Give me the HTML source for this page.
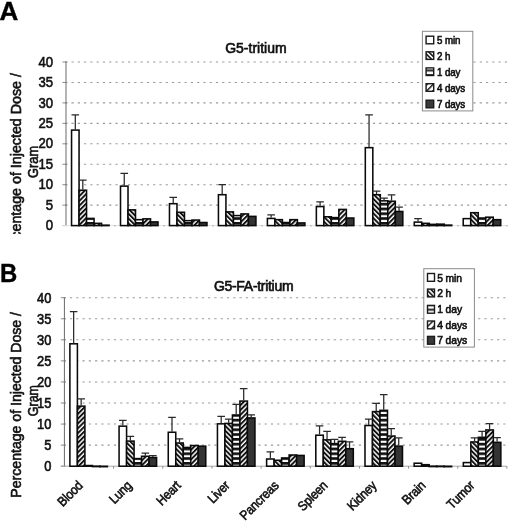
<!DOCTYPE html>
<html><head><meta charset="utf-8"><title>Biodistribution</title>
<style>
html,body{margin:0;padding:0;background:#fff;}
body{width:520px;height:528px;overflow:hidden;font-family:"Liberation Sans",sans-serif;}
svg{display:block;filter:blur(0.45px);}
text{font-family:"Liberation Sans",sans-serif;fill:#111;}
.panel{font-size:26px;font-weight:bold;fill:#000;stroke:#000;stroke-width:0.4px;}
.yl{font-size:14px;stroke:#111;stroke-width:0.6px;}
.ttl{font-size:13.5px;letter-spacing:0.45px;stroke:#111;stroke-width:0.65px;}
.ax{font-size:14px;stroke:#111;stroke-width:0.6px;}
.lg{font-size:11px;letter-spacing:-0.1px;stroke:#111;stroke-width:0.65px;}
.cat{font-size:13.2px;letter-spacing:-0.2px;stroke:#111;stroke-width:0.6px;}
</style></head><body>
<svg width="520" height="528" viewBox="0 0 520 528">
<defs>
<pattern id="pBack" patternUnits="userSpaceOnUse" width="3.4" height="3.4" patternTransform="rotate(-45)"><rect width="3.4" height="3.4" fill="#fff"/><rect width="1.95" height="3.4" fill="#111"/></pattern>
<pattern id="pFwd" patternUnits="userSpaceOnUse" width="3.4" height="3.4" patternTransform="rotate(45)"><rect width="3.4" height="3.4" fill="#fff"/><rect width="1.95" height="3.4" fill="#111"/></pattern>
<pattern id="pHorz" patternUnits="userSpaceOnUse" width="4.8" height="4.8" patternTransform="translate(0 1.2)"><rect width="4.8" height="4.8" fill="#fff"/><rect width="4.8" height="2.7" fill="#111"/></pattern>
<pattern id="lBack" patternUnits="userSpaceOnUse" width="3.2" height="3.2" patternTransform="rotate(-45)"><rect width="3.2" height="3.2" fill="#fff"/><rect width="1.7" height="3.2" fill="#222"/></pattern>
<pattern id="lFwd" patternUnits="userSpaceOnUse" width="4.4" height="4.4" patternTransform="rotate(45)"><rect width="4.4" height="4.4" fill="#fff"/><rect width="1.5" height="4.4" fill="#222"/></pattern>
<pattern id="lHorz" patternUnits="userSpaceOnUse" width="8" height="4.6" patternTransform="translate(0 0.4)"><rect width="8" height="4.6" fill="#fff"/><rect width="8" height="2.2" fill="#333"/></pattern>
<clipPath id="clipA"><rect x="0" y="0" width="520" height="234"/></clipPath>
</defs>
<rect width="520" height="528" fill="#fff"/>

<!-- Panel A -->
<text x="-0.6" y="19.7" class="panel">A</text>
<g clip-path="url(#clipA)">
<text transform="translate(21.0 73.1) rotate(-90)" text-anchor="end" class="ax" style="font-size:14.25px">Percentage of Injected Dose /</text>
<text transform="translate(38.2 161.9) rotate(-90) scale(0.89 1)" text-anchor="middle" class="ax" style="font-size:14.4px">Gram</text>
</g>
<text transform="translate(53.0 230.20) scale(0.92 1)" text-anchor="end" class="yl" style="font-size:14.3px">0</text>
<text transform="translate(53.0 209.75) scale(0.92 1)" text-anchor="end" class="yl" style="font-size:14.3px">5</text>
<text transform="translate(53.0 189.30) scale(0.92 1)" text-anchor="end" class="yl" style="font-size:14.3px">10</text>
<text transform="translate(53.0 168.85) scale(0.92 1)" text-anchor="end" class="yl" style="font-size:14.3px">15</text>
<text transform="translate(53.0 148.40) scale(0.92 1)" text-anchor="end" class="yl" style="font-size:14.3px">20</text>
<text transform="translate(53.0 127.95) scale(0.92 1)" text-anchor="end" class="yl" style="font-size:14.3px">25</text>
<text transform="translate(53.0 107.50) scale(0.92 1)" text-anchor="end" class="yl" style="font-size:14.3px">30</text>
<text transform="translate(53.0 87.05) scale(0.92 1)" text-anchor="end" class="yl" style="font-size:14.3px">35</text>
<text transform="translate(53.0 66.60) scale(0.92 1)" text-anchor="end" class="yl" style="font-size:14.3px">40</text>
<text x="255.9" y="53.3" text-anchor="middle" class="ttl" style="font-size:14px;letter-spacing:0px">G5-tritium</text>
<line x1="65.20" y1="205.15" x2="507.00" y2="205.15" stroke="#9a9a9a" stroke-width="1.1" stroke-dasharray="2.2 4.08"/>
<line x1="65.20" y1="184.70" x2="507.00" y2="184.70" stroke="#9a9a9a" stroke-width="1.1" stroke-dasharray="2.2 4.08"/>
<line x1="65.20" y1="164.25" x2="507.00" y2="164.25" stroke="#9a9a9a" stroke-width="1.1" stroke-dasharray="2.2 4.08"/>
<line x1="65.20" y1="143.80" x2="507.00" y2="143.80" stroke="#9a9a9a" stroke-width="1.1" stroke-dasharray="2.2 4.08"/>
<line x1="65.20" y1="123.35" x2="507.00" y2="123.35" stroke="#9a9a9a" stroke-width="1.1" stroke-dasharray="2.2 4.08"/>
<line x1="65.20" y1="102.90" x2="507.00" y2="102.90" stroke="#9a9a9a" stroke-width="1.1" stroke-dasharray="2.2 4.08"/>
<line x1="65.20" y1="82.45" x2="507.00" y2="82.45" stroke="#9a9a9a" stroke-width="1.1" stroke-dasharray="2.2 4.08"/>
<line x1="65.20" y1="62.00" x2="507.00" y2="62.00" stroke="#9a9a9a" stroke-width="1.1" stroke-dasharray="2.2 4.08"/>
<line x1="62.40" y1="225.60" x2="67.20" y2="225.60" stroke="#8c8c8c" stroke-width="1"/>
<line x1="62.40" y1="205.15" x2="67.20" y2="205.15" stroke="#8c8c8c" stroke-width="1"/>
<line x1="62.40" y1="184.70" x2="67.20" y2="184.70" stroke="#8c8c8c" stroke-width="1"/>
<line x1="62.40" y1="164.25" x2="67.20" y2="164.25" stroke="#8c8c8c" stroke-width="1"/>
<line x1="62.40" y1="143.80" x2="67.20" y2="143.80" stroke="#8c8c8c" stroke-width="1"/>
<line x1="62.40" y1="123.35" x2="67.20" y2="123.35" stroke="#8c8c8c" stroke-width="1"/>
<line x1="62.40" y1="102.90" x2="67.20" y2="102.90" stroke="#8c8c8c" stroke-width="1"/>
<line x1="62.40" y1="82.45" x2="67.20" y2="82.45" stroke="#8c8c8c" stroke-width="1"/>
<line x1="62.40" y1="62.00" x2="67.20" y2="62.00" stroke="#8c8c8c" stroke-width="1"/>
<line x1="66.00" y1="61.50" x2="66.00" y2="226.10" stroke="#777" stroke-width="1.1"/>
<line x1="62.40" y1="225.60" x2="507.00" y2="225.60" stroke="#e2e2e2" stroke-width="1"/>
<line x1="115.00" y1="225.00" x2="115.00" y2="226.40" stroke="#aaa" stroke-width="1.2"/>
<line x1="164.00" y1="225.00" x2="164.00" y2="226.40" stroke="#aaa" stroke-width="1.2"/>
<line x1="213.00" y1="225.00" x2="213.00" y2="226.40" stroke="#aaa" stroke-width="1.2"/>
<line x1="262.00" y1="225.00" x2="262.00" y2="226.40" stroke="#aaa" stroke-width="1.2"/>
<line x1="311.00" y1="225.00" x2="311.00" y2="226.40" stroke="#aaa" stroke-width="1.2"/>
<line x1="360.00" y1="225.00" x2="360.00" y2="226.40" stroke="#aaa" stroke-width="1.2"/>
<line x1="409.00" y1="225.00" x2="409.00" y2="226.40" stroke="#aaa" stroke-width="1.2"/>
<line x1="458.00" y1="225.00" x2="458.00" y2="226.40" stroke="#aaa" stroke-width="1.2"/>
<line x1="507.00" y1="225.00" x2="507.00" y2="226.40" stroke="#aaa" stroke-width="1.2"/>
<rect x="71.55" y="130.09" width="7.50" height="95.52" fill="#fff" stroke="#0a0a0a" stroke-width="1.55"/>
<rect x="79.05" y="190.21" width="7.50" height="35.39" fill="url(#pFwd)" stroke="#0a0a0a" stroke-width="1.55"/>
<rect x="86.55" y="218.43" width="7.50" height="7.17" fill="url(#pHorz)" stroke="#0a0a0a" stroke-width="1.55"/>
<rect x="94.05" y="223.34" width="7.50" height="2.26" fill="url(#pFwd)" stroke="#0a0a0a" stroke-width="1.55"/>
<rect x="101.55" y="225.18" width="7.50" height="0.42" fill="#333" stroke="#0a0a0a" stroke-width="1.55"/>
<path d="M75.30 129.49V114.76M71.50 114.76H79.10" stroke="#2a2a2a" stroke-width="1.25" fill="none"/>
<path d="M82.80 189.61V180.20M79.00 180.20H86.60" stroke="#2a2a2a" stroke-width="1.25" fill="none"/>
<rect x="120.51" y="186.12" width="7.50" height="39.48" fill="#fff" stroke="#0a0a0a" stroke-width="1.55"/>
<rect x="128.01" y="209.84" width="7.50" height="15.76" fill="url(#pBack)" stroke="#0a0a0a" stroke-width="1.55"/>
<rect x="135.51" y="219.66" width="7.50" height="5.94" fill="url(#pHorz)" stroke="#0a0a0a" stroke-width="1.55"/>
<rect x="143.01" y="218.84" width="7.50" height="6.76" fill="url(#pFwd)" stroke="#0a0a0a" stroke-width="1.55"/>
<rect x="150.51" y="221.91" width="7.50" height="3.69" fill="#333" stroke="#0a0a0a" stroke-width="1.55"/>
<path d="M124.26 185.52V173.25M120.46 173.25H128.06" stroke="#2a2a2a" stroke-width="1.25" fill="none"/>
<rect x="169.47" y="203.70" width="7.50" height="21.89" fill="#fff" stroke="#0a0a0a" stroke-width="1.55"/>
<rect x="176.97" y="212.29" width="7.50" height="13.31" fill="url(#pBack)" stroke="#0a0a0a" stroke-width="1.55"/>
<rect x="184.47" y="220.68" width="7.50" height="4.92" fill="url(#pHorz)" stroke="#0a0a0a" stroke-width="1.55"/>
<rect x="191.97" y="220.06" width="7.50" height="5.54" fill="url(#pFwd)" stroke="#0a0a0a" stroke-width="1.55"/>
<rect x="199.47" y="222.52" width="7.50" height="3.08" fill="#333" stroke="#0a0a0a" stroke-width="1.55"/>
<path d="M173.22 203.10V197.38M169.42 197.38H177.02" stroke="#2a2a2a" stroke-width="1.25" fill="none"/>
<rect x="218.43" y="194.71" width="7.50" height="30.89" fill="#fff" stroke="#0a0a0a" stroke-width="1.55"/>
<rect x="225.93" y="211.88" width="7.50" height="13.71" fill="url(#pBack)" stroke="#0a0a0a" stroke-width="1.55"/>
<rect x="233.43" y="215.57" width="7.50" height="10.03" fill="url(#pHorz)" stroke="#0a0a0a" stroke-width="1.55"/>
<rect x="240.93" y="213.93" width="7.50" height="11.67" fill="url(#pFwd)" stroke="#0a0a0a" stroke-width="1.55"/>
<rect x="248.43" y="216.38" width="7.50" height="9.22" fill="#333" stroke="#0a0a0a" stroke-width="1.55"/>
<path d="M222.18 194.11V184.50M218.38 184.50H225.98" stroke="#2a2a2a" stroke-width="1.25" fill="none"/>
<rect x="267.39" y="218.43" width="7.50" height="7.17" fill="#fff" stroke="#0a0a0a" stroke-width="1.55"/>
<rect x="274.89" y="219.66" width="7.50" height="5.94" fill="url(#pBack)" stroke="#0a0a0a" stroke-width="1.55"/>
<rect x="282.39" y="222.52" width="7.50" height="3.08" fill="url(#pHorz)" stroke="#0a0a0a" stroke-width="1.55"/>
<rect x="289.89" y="219.66" width="7.50" height="5.94" fill="url(#pFwd)" stroke="#0a0a0a" stroke-width="1.55"/>
<rect x="297.39" y="222.93" width="7.50" height="2.67" fill="#333" stroke="#0a0a0a" stroke-width="1.55"/>
<path d="M271.14 217.83V214.76M267.34 214.76H274.94" stroke="#2a2a2a" stroke-width="1.25" fill="none"/>
<rect x="316.35" y="206.57" width="7.50" height="19.03" fill="#fff" stroke="#0a0a0a" stroke-width="1.55"/>
<rect x="323.85" y="216.79" width="7.50" height="8.81" fill="url(#pBack)" stroke="#0a0a0a" stroke-width="1.55"/>
<rect x="331.35" y="217.61" width="7.50" height="7.99" fill="url(#pHorz)" stroke="#0a0a0a" stroke-width="1.55"/>
<rect x="338.85" y="209.43" width="7.50" height="16.17" fill="url(#pFwd)" stroke="#0a0a0a" stroke-width="1.55"/>
<rect x="346.35" y="218.02" width="7.50" height="7.58" fill="#333" stroke="#0a0a0a" stroke-width="1.55"/>
<path d="M320.10 205.97V201.88M316.30 201.88H323.90" stroke="#2a2a2a" stroke-width="1.25" fill="none"/>
<rect x="365.31" y="147.67" width="7.50" height="77.93" fill="#fff" stroke="#0a0a0a" stroke-width="1.55"/>
<rect x="372.81" y="194.71" width="7.50" height="30.89" fill="url(#pBack)" stroke="#0a0a0a" stroke-width="1.55"/>
<rect x="380.31" y="200.84" width="7.50" height="24.76" fill="url(#pHorz)" stroke="#0a0a0a" stroke-width="1.55"/>
<rect x="387.81" y="201.25" width="7.50" height="24.35" fill="url(#pFwd)" stroke="#0a0a0a" stroke-width="1.55"/>
<rect x="395.31" y="211.48" width="7.50" height="14.12" fill="#333" stroke="#0a0a0a" stroke-width="1.55"/>
<path d="M369.06 147.07V114.76M365.26 114.76H372.86" stroke="#2a2a2a" stroke-width="1.25" fill="none"/>
<path d="M376.56 194.11V191.24M372.76 191.24H380.36" stroke="#2a2a2a" stroke-width="1.25" fill="none"/>
<path d="M384.06 200.24V198.20M380.26 198.20H387.86" stroke="#2a2a2a" stroke-width="1.25" fill="none"/>
<path d="M391.56 200.65V194.93M387.76 194.93H395.36" stroke="#2a2a2a" stroke-width="1.25" fill="none"/>
<path d="M399.06 210.88V207.19M395.26 207.19H402.86" stroke="#2a2a2a" stroke-width="1.25" fill="none"/>
<rect x="414.27" y="222.11" width="7.50" height="3.49" fill="#fff" stroke="#0a0a0a" stroke-width="1.55"/>
<rect x="421.77" y="223.34" width="7.50" height="2.26" fill="url(#pBack)" stroke="#0a0a0a" stroke-width="1.55"/>
<rect x="429.27" y="224.36" width="7.50" height="1.24" fill="url(#pHorz)" stroke="#0a0a0a" stroke-width="1.55"/>
<rect x="436.77" y="224.16" width="7.50" height="1.44" fill="url(#pFwd)" stroke="#0a0a0a" stroke-width="1.55"/>
<rect x="444.27" y="225.10" width="7.50" height="0.50" fill="#333" stroke="#0a0a0a" stroke-width="1.55"/>
<path d="M418.02 221.51V218.65M414.22 218.65H421.82" stroke="#2a2a2a" stroke-width="1.25" fill="none"/>
<rect x="463.23" y="218.63" width="7.50" height="6.97" fill="#fff" stroke="#0a0a0a" stroke-width="1.55"/>
<rect x="470.73" y="212.70" width="7.50" height="12.90" fill="url(#pBack)" stroke="#0a0a0a" stroke-width="1.55"/>
<rect x="478.23" y="218.02" width="7.50" height="7.58" fill="url(#pHorz)" stroke="#0a0a0a" stroke-width="1.55"/>
<rect x="485.73" y="217.20" width="7.50" height="8.40" fill="url(#pFwd)" stroke="#0a0a0a" stroke-width="1.55"/>
<rect x="493.23" y="219.66" width="7.50" height="5.94" fill="#333" stroke="#0a0a0a" stroke-width="1.55"/>
<rect x="422.4" y="31.3" width="50.4" height="79.6" fill="#fff" stroke="#8a8a8a" stroke-width="1"/>
<rect x="426.10" y="36.20" width="7.6" height="7.6" fill="#fff" stroke="#1a1a1a" stroke-width="1.4"/>
<text transform="translate(437.00 44.03) scale(0.87 1)" class="lg" style="font-size:11.2px">5 min</text>
<rect x="426.10" y="51.80" width="7.6" height="7.6" fill="url(#lBack)" stroke="#1a1a1a" stroke-width="1.4"/>
<text transform="translate(437.00 59.63) scale(0.87 1)" class="lg" style="font-size:11.2px">2 h</text>
<rect x="426.10" y="67.90" width="7.6" height="7.6" fill="url(#lHorz)" stroke="#1a1a1a" stroke-width="1.4"/>
<text transform="translate(437.00 75.73) scale(0.87 1)" class="lg" style="font-size:11.2px">1 day</text>
<rect x="426.10" y="83.70" width="7.6" height="7.6" fill="url(#lFwd)" stroke="#1a1a1a" stroke-width="1.4"/>
<text transform="translate(437.00 91.53) scale(0.87 1)" class="lg" style="font-size:11.2px">4 days</text>
<rect x="426.10" y="100.20" width="7.6" height="7.6" fill="#3a3a3a" stroke="#1a1a1a" stroke-width="1.4"/>
<text transform="translate(437.00 108.03) scale(0.87 1)" class="lg" style="font-size:11.2px">7 days</text>

<!-- Panel B -->
<text transform="translate(0 282.1) scale(0.92 1)" class="panel">B</text>
<text transform="translate(20.9 404.8) rotate(-90)" text-anchor="middle" class="ax" style="font-size:14.1px">Percentage of Injected Dose /</text>
<text transform="translate(37.8 400.6) rotate(-90) scale(0.89 1)" text-anchor="middle" class="ax" style="font-size:14px">Gram</text>
<text transform="translate(51.4 471.20) scale(0.92 1)" text-anchor="end" class="yl" style="font-size:14px">0</text>
<text transform="translate(51.4 450.14) scale(0.92 1)" text-anchor="end" class="yl" style="font-size:14px">5</text>
<text transform="translate(51.4 429.07) scale(0.92 1)" text-anchor="end" class="yl" style="font-size:14px">10</text>
<text transform="translate(51.4 408.01) scale(0.92 1)" text-anchor="end" class="yl" style="font-size:14px">15</text>
<text transform="translate(51.4 386.95) scale(0.92 1)" text-anchor="end" class="yl" style="font-size:14px">20</text>
<text transform="translate(51.4 365.89) scale(0.92 1)" text-anchor="end" class="yl" style="font-size:14px">25</text>
<text transform="translate(51.4 344.82) scale(0.92 1)" text-anchor="end" class="yl" style="font-size:14px">30</text>
<text transform="translate(51.4 323.76) scale(0.92 1)" text-anchor="end" class="yl" style="font-size:14px">35</text>
<text transform="translate(51.4 302.70) scale(0.92 1)" text-anchor="end" class="yl" style="font-size:14px">40</text>
<text x="253.6" y="290.5" text-anchor="middle" class="ttl" style="font-size:14px;letter-spacing:-0.3px">G5-FA-tritium</text>
<line x1="63.65" y1="445.14" x2="506.90" y2="445.14" stroke="#9a9a9a" stroke-width="1.1" stroke-dasharray="2.2 4.08"/>
<line x1="63.65" y1="424.07" x2="506.90" y2="424.07" stroke="#9a9a9a" stroke-width="1.1" stroke-dasharray="2.2 4.08"/>
<line x1="63.65" y1="403.01" x2="506.90" y2="403.01" stroke="#9a9a9a" stroke-width="1.1" stroke-dasharray="2.2 4.08"/>
<line x1="63.65" y1="381.95" x2="506.90" y2="381.95" stroke="#9a9a9a" stroke-width="1.1" stroke-dasharray="2.2 4.08"/>
<line x1="63.65" y1="360.89" x2="506.90" y2="360.89" stroke="#9a9a9a" stroke-width="1.1" stroke-dasharray="2.2 4.08"/>
<line x1="63.65" y1="339.82" x2="506.90" y2="339.82" stroke="#9a9a9a" stroke-width="1.1" stroke-dasharray="2.2 4.08"/>
<line x1="63.65" y1="318.76" x2="506.90" y2="318.76" stroke="#9a9a9a" stroke-width="1.1" stroke-dasharray="2.2 4.08"/>
<line x1="63.65" y1="297.70" x2="506.90" y2="297.70" stroke="#9a9a9a" stroke-width="1.1" stroke-dasharray="2.2 4.08"/>
<line x1="60.85" y1="466.20" x2="65.65" y2="466.20" stroke="#8c8c8c" stroke-width="1"/>
<line x1="60.85" y1="445.14" x2="65.65" y2="445.14" stroke="#8c8c8c" stroke-width="1"/>
<line x1="60.85" y1="424.07" x2="65.65" y2="424.07" stroke="#8c8c8c" stroke-width="1"/>
<line x1="60.85" y1="403.01" x2="65.65" y2="403.01" stroke="#8c8c8c" stroke-width="1"/>
<line x1="60.85" y1="381.95" x2="65.65" y2="381.95" stroke="#8c8c8c" stroke-width="1"/>
<line x1="60.85" y1="360.89" x2="65.65" y2="360.89" stroke="#8c8c8c" stroke-width="1"/>
<line x1="60.85" y1="339.82" x2="65.65" y2="339.82" stroke="#8c8c8c" stroke-width="1"/>
<line x1="60.85" y1="318.76" x2="65.65" y2="318.76" stroke="#8c8c8c" stroke-width="1"/>
<line x1="60.85" y1="297.70" x2="65.65" y2="297.70" stroke="#8c8c8c" stroke-width="1"/>
<line x1="64.45" y1="297.20" x2="64.45" y2="466.70" stroke="#777" stroke-width="1.1"/>
<line x1="60.85" y1="466.20" x2="506.90" y2="466.20" stroke="#a8a8a8" stroke-width="1"/>
<line x1="113.61" y1="466.20" x2="113.61" y2="468.60" stroke="#8a8a8a" stroke-width="1"/>
<line x1="162.77" y1="466.20" x2="162.77" y2="468.60" stroke="#8a8a8a" stroke-width="1"/>
<line x1="211.93" y1="466.20" x2="211.93" y2="468.60" stroke="#8a8a8a" stroke-width="1"/>
<line x1="261.09" y1="466.20" x2="261.09" y2="468.60" stroke="#8a8a8a" stroke-width="1"/>
<line x1="310.26" y1="466.20" x2="310.26" y2="468.60" stroke="#8a8a8a" stroke-width="1"/>
<line x1="359.42" y1="466.20" x2="359.42" y2="468.60" stroke="#8a8a8a" stroke-width="1"/>
<line x1="408.58" y1="466.20" x2="408.58" y2="468.60" stroke="#8a8a8a" stroke-width="1"/>
<line x1="457.74" y1="466.20" x2="457.74" y2="468.60" stroke="#8a8a8a" stroke-width="1"/>
<line x1="506.90" y1="466.20" x2="506.90" y2="468.60" stroke="#8a8a8a" stroke-width="1"/>
<rect x="69.90" y="343.80" width="7.50" height="122.41" fill="#fff" stroke="#0a0a0a" stroke-width="1.55"/>
<rect x="77.40" y="406.14" width="7.50" height="60.06" fill="url(#pFwd)" stroke="#0a0a0a" stroke-width="1.55"/>
<rect x="84.90" y="465.54" width="7.50" height="0.66" fill="url(#pHorz)" stroke="#0a0a0a" stroke-width="1.55"/>
<rect x="92.40" y="466.17" width="7.50" height="0.40" fill="url(#pFwd)" stroke="#0a0a0a" stroke-width="1.55"/>
<rect x="99.90" y="466.29" width="7.50" height="0.40" fill="#333" stroke="#0a0a0a" stroke-width="1.55"/>
<path d="M73.65 343.19V311.60M69.85 311.60H77.45" stroke="#2a2a2a" stroke-width="1.25" fill="none"/>
<path d="M81.15 405.54V398.80M77.35 398.80H84.95" stroke="#2a2a2a" stroke-width="1.25" fill="none"/>
<rect x="119.08" y="426.15" width="7.50" height="40.05" fill="#fff" stroke="#0a0a0a" stroke-width="1.55"/>
<rect x="126.58" y="441.10" width="7.50" height="25.10" fill="url(#pBack)" stroke="#0a0a0a" stroke-width="1.55"/>
<rect x="134.08" y="458.59" width="7.50" height="7.61" fill="url(#pHorz)" stroke="#0a0a0a" stroke-width="1.55"/>
<rect x="141.58" y="456.27" width="7.50" height="9.93" fill="url(#pFwd)" stroke="#0a0a0a" stroke-width="1.55"/>
<rect x="149.08" y="457.53" width="7.50" height="8.67" fill="#333" stroke="#0a0a0a" stroke-width="1.55"/>
<path d="M122.83 425.55V420.28M119.03 420.28H126.63" stroke="#2a2a2a" stroke-width="1.25" fill="none"/>
<path d="M130.33 440.50V436.29M126.53 436.29H134.13" stroke="#2a2a2a" stroke-width="1.25" fill="none"/>
<path d="M145.33 455.67V453.14M141.53 453.14H149.13" stroke="#2a2a2a" stroke-width="1.25" fill="none"/>
<path d="M152.83 456.93V455.67M149.03 455.67H156.63" stroke="#2a2a2a" stroke-width="1.25" fill="none"/>
<rect x="168.26" y="432.26" width="7.50" height="33.94" fill="#fff" stroke="#0a0a0a" stroke-width="1.55"/>
<rect x="175.76" y="443.00" width="7.50" height="23.20" fill="url(#pBack)" stroke="#0a0a0a" stroke-width="1.55"/>
<rect x="183.26" y="447.42" width="7.50" height="18.78" fill="url(#pHorz)" stroke="#0a0a0a" stroke-width="1.55"/>
<rect x="190.76" y="445.53" width="7.50" height="20.67" fill="url(#pFwd)" stroke="#0a0a0a" stroke-width="1.55"/>
<rect x="198.26" y="446.16" width="7.50" height="20.04" fill="#333" stroke="#0a0a0a" stroke-width="1.55"/>
<path d="M172.01 431.66V417.33M168.21 417.33H175.81" stroke="#2a2a2a" stroke-width="1.25" fill="none"/>
<path d="M179.51 442.40V438.82M175.71 438.82H183.31" stroke="#2a2a2a" stroke-width="1.25" fill="none"/>
<rect x="217.44" y="423.83" width="7.50" height="42.37" fill="#fff" stroke="#0a0a0a" stroke-width="1.55"/>
<rect x="224.94" y="423.41" width="7.50" height="42.79" fill="url(#pBack)" stroke="#0a0a0a" stroke-width="1.55"/>
<rect x="232.44" y="414.99" width="7.50" height="51.21" fill="url(#pHorz)" stroke="#0a0a0a" stroke-width="1.55"/>
<rect x="239.94" y="401.09" width="7.50" height="65.12" fill="url(#pFwd)" stroke="#0a0a0a" stroke-width="1.55"/>
<rect x="247.44" y="417.94" width="7.50" height="48.27" fill="#333" stroke="#0a0a0a" stroke-width="1.55"/>
<path d="M221.19 423.23V416.49M217.39 416.49H224.99" stroke="#2a2a2a" stroke-width="1.25" fill="none"/>
<path d="M228.69 422.81V419.02M224.89 419.02H232.49" stroke="#2a2a2a" stroke-width="1.25" fill="none"/>
<path d="M236.19 414.39V404.28M232.39 404.28H239.99" stroke="#2a2a2a" stroke-width="1.25" fill="none"/>
<path d="M243.69 400.49V388.69M239.89 388.69H247.49" stroke="#2a2a2a" stroke-width="1.25" fill="none"/>
<path d="M251.19 417.33V414.81M247.39 414.81H254.99" stroke="#2a2a2a" stroke-width="1.25" fill="none"/>
<rect x="266.62" y="459.01" width="7.50" height="7.19" fill="#fff" stroke="#0a0a0a" stroke-width="1.55"/>
<rect x="274.12" y="460.27" width="7.50" height="5.93" fill="url(#pBack)" stroke="#0a0a0a" stroke-width="1.55"/>
<rect x="281.62" y="457.95" width="7.50" height="8.25" fill="url(#pHorz)" stroke="#0a0a0a" stroke-width="1.55"/>
<rect x="289.12" y="455.00" width="7.50" height="11.20" fill="url(#pFwd)" stroke="#0a0a0a" stroke-width="1.55"/>
<rect x="296.62" y="455.43" width="7.50" height="10.77" fill="#333" stroke="#0a0a0a" stroke-width="1.55"/>
<path d="M270.37 458.41V451.88M266.57 451.88H274.17" stroke="#2a2a2a" stroke-width="1.25" fill="none"/>
<rect x="315.80" y="435.21" width="7.50" height="30.99" fill="#fff" stroke="#0a0a0a" stroke-width="1.55"/>
<rect x="323.30" y="439.84" width="7.50" height="26.36" fill="url(#pBack)" stroke="#0a0a0a" stroke-width="1.55"/>
<rect x="330.80" y="443.63" width="7.50" height="22.57" fill="url(#pHorz)" stroke="#0a0a0a" stroke-width="1.55"/>
<rect x="338.30" y="441.31" width="7.50" height="24.89" fill="url(#pFwd)" stroke="#0a0a0a" stroke-width="1.55"/>
<rect x="345.80" y="448.69" width="7.50" height="17.51" fill="#333" stroke="#0a0a0a" stroke-width="1.55"/>
<path d="M319.55 434.61V425.76M315.75 425.76H323.35" stroke="#2a2a2a" stroke-width="1.25" fill="none"/>
<path d="M327.05 439.24V431.45M323.25 431.45H330.85" stroke="#2a2a2a" stroke-width="1.25" fill="none"/>
<path d="M334.55 443.03V439.45M330.75 439.45H338.35" stroke="#2a2a2a" stroke-width="1.25" fill="none"/>
<path d="M342.05 440.71V437.34M338.25 437.34H345.85" stroke="#2a2a2a" stroke-width="1.25" fill="none"/>
<path d="M349.55 448.09V441.98M345.75 441.98H353.35" stroke="#2a2a2a" stroke-width="1.25" fill="none"/>
<rect x="364.98" y="425.52" width="7.50" height="40.68" fill="#fff" stroke="#0a0a0a" stroke-width="1.55"/>
<rect x="372.48" y="411.62" width="7.50" height="54.58" fill="url(#pBack)" stroke="#0a0a0a" stroke-width="1.55"/>
<rect x="379.98" y="410.35" width="7.50" height="55.85" fill="url(#pHorz)" stroke="#0a0a0a" stroke-width="1.55"/>
<rect x="387.48" y="436.05" width="7.50" height="30.15" fill="url(#pFwd)" stroke="#0a0a0a" stroke-width="1.55"/>
<rect x="394.98" y="446.16" width="7.50" height="20.04" fill="#333" stroke="#0a0a0a" stroke-width="1.55"/>
<path d="M368.73 424.92V419.02M364.93 419.02H372.53" stroke="#2a2a2a" stroke-width="1.25" fill="none"/>
<path d="M376.23 411.02V403.43M372.43 403.43H380.03" stroke="#2a2a2a" stroke-width="1.25" fill="none"/>
<path d="M383.73 409.75V394.59M379.93 394.59H387.53" stroke="#2a2a2a" stroke-width="1.25" fill="none"/>
<path d="M391.23 435.45V428.71M387.43 428.71H395.03" stroke="#2a2a2a" stroke-width="1.25" fill="none"/>
<path d="M398.73 445.56V437.98M394.93 437.98H402.53" stroke="#2a2a2a" stroke-width="1.25" fill="none"/>
<rect x="414.16" y="463.22" width="7.50" height="2.98" fill="#fff" stroke="#0a0a0a" stroke-width="1.55"/>
<rect x="421.66" y="464.69" width="7.50" height="1.51" fill="url(#pBack)" stroke="#0a0a0a" stroke-width="1.55"/>
<rect x="429.16" y="466.17" width="7.50" height="0.40" fill="url(#pHorz)" stroke="#0a0a0a" stroke-width="1.55"/>
<rect x="436.66" y="466.17" width="7.50" height="0.40" fill="url(#pFwd)" stroke="#0a0a0a" stroke-width="1.55"/>
<rect x="444.16" y="466.29" width="7.50" height="0.40" fill="#333" stroke="#0a0a0a" stroke-width="1.55"/>
<rect x="463.34" y="462.59" width="7.50" height="3.61" fill="#fff" stroke="#0a0a0a" stroke-width="1.55"/>
<rect x="470.84" y="441.95" width="7.50" height="24.25" fill="url(#pBack)" stroke="#0a0a0a" stroke-width="1.55"/>
<rect x="478.34" y="437.31" width="7.50" height="28.89" fill="url(#pHorz)" stroke="#0a0a0a" stroke-width="1.55"/>
<rect x="485.84" y="429.94" width="7.50" height="36.26" fill="url(#pFwd)" stroke="#0a0a0a" stroke-width="1.55"/>
<rect x="493.34" y="442.37" width="7.50" height="23.83" fill="#333" stroke="#0a0a0a" stroke-width="1.55"/>
<path d="M474.59 441.35V437.98M470.79 437.98H478.39" stroke="#2a2a2a" stroke-width="1.25" fill="none"/>
<path d="M482.09 436.71V431.45M478.29 431.45H485.89" stroke="#2a2a2a" stroke-width="1.25" fill="none"/>
<path d="M489.59 429.34V423.65M485.79 423.65H493.39" stroke="#2a2a2a" stroke-width="1.25" fill="none"/>
<path d="M497.09 441.77V437.56M493.29 437.56H500.89" stroke="#2a2a2a" stroke-width="1.25" fill="none"/>
<rect x="423.8" y="268.7" width="50.6" height="78.4" fill="#fff" stroke="#8a8a8a" stroke-width="1"/>
<rect x="427.50" y="273.50" width="7.0" height="7.8" fill="#fff" stroke="#1a1a1a" stroke-width="1.4"/>
<text transform="translate(437.20 281.58) scale(0.89 1)" class="lg" style="font-size:11.6px">5 min</text>
<rect x="427.50" y="289.10" width="7.0" height="7.8" fill="url(#lBack)" stroke="#1a1a1a" stroke-width="1.4"/>
<text transform="translate(437.20 297.18) scale(0.89 1)" class="lg" style="font-size:11.6px">2 h</text>
<rect x="427.50" y="305.40" width="7.0" height="7.8" fill="url(#lHorz)" stroke="#1a1a1a" stroke-width="1.4"/>
<text transform="translate(437.20 313.48) scale(0.89 1)" class="lg" style="font-size:11.6px">1 day</text>
<rect x="427.50" y="321.00" width="7.0" height="7.8" fill="url(#lFwd)" stroke="#1a1a1a" stroke-width="1.4"/>
<text transform="translate(437.20 329.08) scale(0.89 1)" class="lg" style="font-size:11.6px">4 days</text>
<rect x="427.50" y="336.40" width="7.0" height="7.8" fill="#3a3a3a" stroke="#1a1a1a" stroke-width="1.4"/>
<text transform="translate(437.20 344.48) scale(0.89 1)" class="lg" style="font-size:11.6px">7 days</text>
<text transform="translate(77.00 479.70) rotate(-45) scale(0.9 1)" text-anchor="end" class="cat" y="9.4">Blood</text>
<text transform="translate(125.95 479.70) rotate(-45) scale(0.9 1)" text-anchor="end" class="cat" y="9.4">Lung</text>
<text transform="translate(174.90 479.70) rotate(-45) scale(0.9 1)" text-anchor="end" class="cat" y="9.4">Heart</text>
<text transform="translate(223.85 479.70) rotate(-45) scale(0.9 1)" text-anchor="end" class="cat" y="9.4">Liver</text>
<text transform="translate(272.80 479.70) rotate(-45) scale(0.9 1)" text-anchor="end" class="cat" y="9.4">Pancreas</text>
<text transform="translate(321.75 479.70) rotate(-45) scale(0.9 1)" text-anchor="end" class="cat" y="9.4">Spleen</text>
<text transform="translate(370.70 479.70) rotate(-45) scale(0.9 1)" text-anchor="end" class="cat" y="9.4">Kidney</text>
<text transform="translate(419.65 479.70) rotate(-45) scale(0.9 1)" text-anchor="end" class="cat" y="9.4">Brain</text>
<text transform="translate(468.60 479.70) rotate(-45) scale(0.9 1)" text-anchor="end" class="cat" y="9.4">Tumor</text>
</svg>
</body></html>
